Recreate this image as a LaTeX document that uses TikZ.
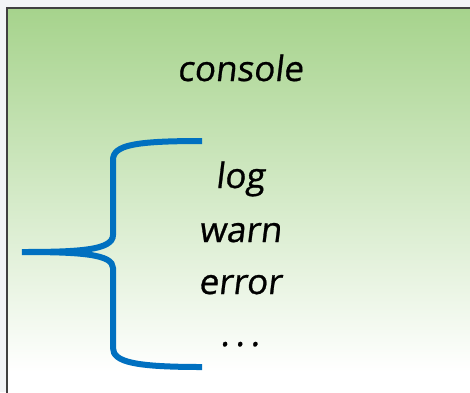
\documentclass[tikz,border=0pt]{standalone}
\usepackage{fontspec}
\setmainfont{Open Sans}
\newfontfamily\handfont{Open Sans}[FakeSlant=0.12, FakeBold=0.8]
\definecolor{boxgreen}{RGB}{166,211,140}
\definecolor{bracebl}{RGB}{0,112,192}
\definecolor{pagebg}{RGB}{242,244,246}
\tikzset{
  label text/.style={font=\fontsize{35}{40}\selectfont\handfont, anchor=base, inner sep=0pt},
  brace/.style={draw=bracebl, line width=6pt}
}
\begin{document}
\begin{tikzpicture}[x=1pt,y=-1pt]
                \useasboundingbox (0,0) rectangle (470,392);
                % 背景
                \fill[pagebg] (0,0) rectangle (470,392);
                % 绿色渐变框
                \shade[top color=boxgreen, bottom color=white] (7,8) rectangle (472,372);
                \fill[white] (7,372) rectangle (472,394);
                \draw[line width=2pt, draw=black!75] (7,394) -- (7,8) -- (472,8);
                % 标题
                \node[label text] (console) at (240,81) {console};
                % 方法列表
                \node[label text] (log) at (240,188) {log};
                \node[label text] (warn) at (240,242) {warn};
                \node[label text] (error) at (240,294) {error};
                \node[label text] (dots) at (240,346) {.\,.\,.};
                % 大括号
                \draw[brace] (202,141) .. controls (135,141) and (113,145) .. (113,160) -- (113,235)
                  .. controls (113,250) and (80,252) .. (22,252)
                  .. controls (80,252) and (113,254) .. (113,268) -- (113,348)
                  .. controls (113,362) and (135,367) .. (202,367);
            \end{tikzpicture}
\end{document}
